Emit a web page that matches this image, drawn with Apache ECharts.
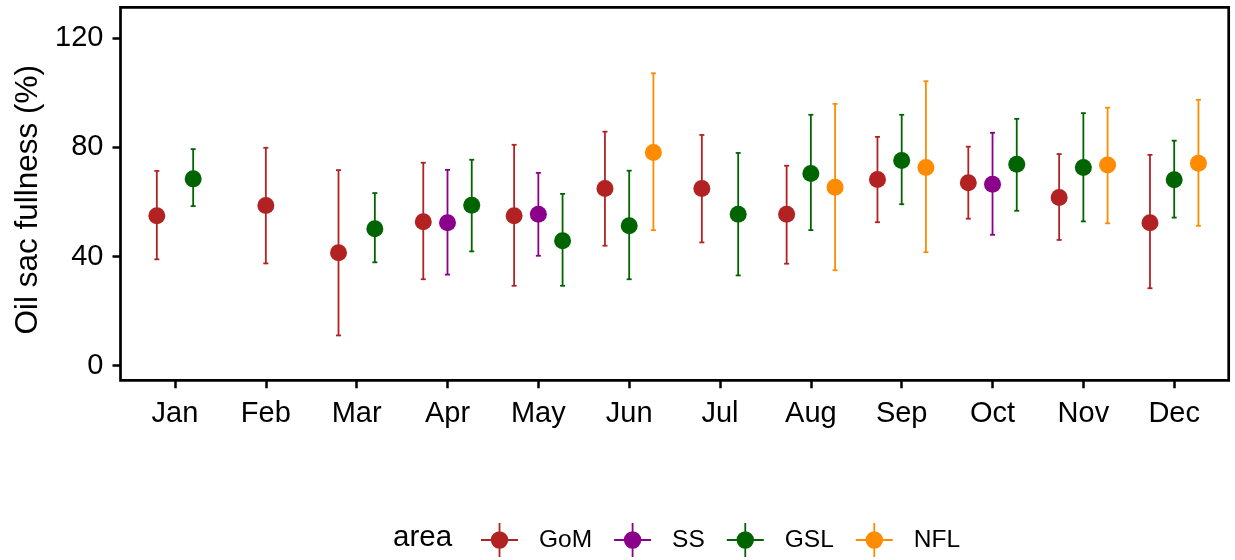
<!DOCTYPE html>
<html>
<head>
<meta charset="utf-8">
<script src="https://cdn.jsdelivr.net/npm/echarts@6/dist/echarts.min.js"></script>
<style>
  html, body { margin: 0; padding: 0; background: #fff; }
  #chart { width: 1235px; height: 560px; }
</style>
</head>
<body>
<div id="chart"></div>
<script>
// Monthly oil sac fullness (mean with lower / upper bounds) by area
const months = ['Jan', 'Feb', 'Mar', 'Apr', 'May', 'Jun', 'Jul', 'Aug', 'Sep', 'Oct', 'Nov', 'Dec'];
const yTicks = [0, 40, 80, 120];
const areas = ['GoM', 'SS', 'GSL', 'NFL'];
const areaColors = ['#B22222', '#8B008B', '#006400', '#FF8C00'];

const gomMean  = [55.0, 58.7, 41.4, 52.8, 55.0, 65.0, 65.0, 55.5, 68.3, 67.1, 61.7, 52.4];
const gomLower = [39.0, 37.5, 11.1, 31.7, 29.3, 44.0, 45.2, 37.4, 52.6, 53.9, 46.1, 28.4];
const gomUpper = [71.4, 79.9, 71.7, 74.4, 81.0, 85.8, 84.6, 73.3, 83.9, 80.3, 77.6, 77.3];

const ssMean  = [null, null, null, 52.4, 55.5, null, null, null, null, 66.5, null, null];
const ssLower = [null, null, null, 33.4, 40.3, null, null, null, null, 48.0, null, null];
const ssUpper = [null, null, null, 71.8, 70.7, null, null, null, null, 85.4, null, null];

const gslMean  = [68.5, null, 50.2, 58.8, 45.8, 51.3, 55.5, 70.5, 75.2, 73.9, 72.7, 68.2];
const gslLower = [58.5, null, 37.9, 41.9, 29.3, 31.7, 33.1, 49.7, 59.2, 56.8, 52.9, 54.3];
const gslUpper = [79.4, null, 63.3, 75.5, 63.0, 71.5, 78.0, 92.0, 92.0, 90.5, 92.6, 82.5];

const nflMean  = [null, null, null, null, null, 78.2, null, 65.4, 72.7, null, 73.6, 74.2];
const nflLower = [null, null, null, null, null, 49.7, null, 35.0, 41.6, null, 52.2, 51.3];
const nflUpper = [null, null, null, null, null, 107.2, null, 96.0, 104.3, null, 94.6, 97.5];

const areaStats = [
  [gomMean, gomLower, gomUpper],
  [ssMean, ssLower, ssUpper],
  [gslMean, gslLower, gslUpper],
  [nflMean, nflLower, nflUpper]
];

// Dodge the areas present in each month side by side (total dodge width 0.8)
const dodgeWidth = 0.8;
function dodgedX(monthIdx, areaIdx) {
  const present = [];
  areaStats.forEach((s, a) => { if (s[0][monthIdx] != null) present.push(a); });
  const n = present.length;
  const k = present.indexOf(areaIdx);
  return monthIdx + 1 + (k - (n - 1) / 2) * dodgeWidth / n;
}

function areaRows(a) {
  const rows = [];
  const [m, lo, hi] = areaStats[a];
  for (let i = 0; i < months.length; i++) {
    if (m[i] == null) continue;
    rows.push([dodgedX(i, a), m[i], lo[i], hi[i]]);
  }
  return rows;
}

// Legend key: horizontal + vertical stroke with a dot in the middle
const keyIcon = 'path://M0,16.1 L37,16.1 L37,17.9 L0,17.9 Z ' +
                'M17.6,0 L19.4,0 L19.4,34 L17.6,34 Z ' +
                'M9.8,17 A8.7,8.7 0 1,1 27.2,17 A8.7,8.7 0 1,1 9.8,17 Z';

const FONT = '"Liberation Sans", Arial, sans-serif';
const series = [];
areas.forEach((name, a) => {
  const rows = areaRows(a);
  series.push({
    name: name,
    type: 'custom',
    data: rows,
    encode: { x: 0, y: [2, 3] },
    z: 2,
    renderItem: function (params, api) {
      const x = api.value(0);
      const top = api.coord([x, api.value(3)]);
      const bot = api.coord([x, api.value(2)]);
      const cap = 2.5;
      const style = { stroke: areaColors[a], lineWidth: 1.8, fill: null };
      return {
        type: 'group',
        children: [
          { type: 'line', shape: { x1: top[0], y1: top[1], x2: bot[0], y2: bot[1] }, style: style },
          { type: 'line', shape: { x1: top[0] - cap, y1: top[1], x2: top[0] + cap, y2: top[1] }, style: style },
          { type: 'line', shape: { x1: bot[0] - cap, y1: bot[1], x2: bot[0] + cap, y2: bot[1] }, style: style }
        ]
      };
    }
  });
  series.push({
    name: name,
    type: 'scatter',
    data: rows.map(r => [r[0], r[1]]),
    symbol: 'circle',
    symbolSize: 17,
    z: 3,
    itemStyle: { color: areaColors[a], opacity: 1 },
    emphasis: { disabled: true }
  });
});

const chart = echarts.init(document.getElementById('chart'), null, { renderer: 'canvas' });
chart.setOption({
  animation: false,
  backgroundColor: '#fff',
  color: areaColors,
  grid: {
    left: 120.5, right: 6.3, top: 7.3, bottom: 179.7,
    show: true, borderColor: '#000', borderWidth: 2.7, backgroundColor: '#fff'
  },
  xAxis: {
    type: 'value',
    min: 0.4, max: 12.6,
    splitLine: { show: false },
    axisLine: { show: false, onZero: false },
    axisTick: {
      show: true, length: 8, customValues: months.map((_, i) => i + 1),
      lineStyle: { color: '#000', width: 2.5 }
    },
    axisLabel: {
      customValues: months.map((_, i) => i + 1),
      formatter: v => months[Math.round(v) - 1],
      color: '#000', fontSize: 29, fontFamily: FONT, margin: 19
    }
  },
  yAxis: {
    type: 'value',
    min: -5.35, max: 131.4,
    name: 'Oil sac fullness (%)',
    nameLocation: 'middle',
    nameGap: 72,
    nameTextStyle: { color: '#000', fontSize: 31.5, fontFamily: FONT, padding: [0, 12, 0, 0] },
    splitLine: { show: false },
    axisLine: { show: false, onZero: false },
    axisTick: {
      show: true, length: 8, customValues: yTicks,
      lineStyle: { color: '#000', width: 2.5 }
    },
    axisLabel: {
      customValues: yTicks,
      color: '#000', fontSize: 29, fontFamily: FONT, margin: 17
    }
  },
  legend: {
    data: areas.map((n, i) => ({ name: n, icon: keyIcon, itemStyle: { color: areaColors[i] } })),
    left: 476, top: 518,
    orient: 'horizontal',
    itemWidth: 37, itemHeight: 34, itemGap: 22,
    selectedMode: false,
    textStyle: { color: '#000', fontSize: 24.5, fontFamily: FONT, padding: [0, 0, 0, 16] }
  },
  graphic: [{
    type: 'text',
    left: 393, top: 523,
    style: { text: 'area', fontSize: 29.5, fontFamily: FONT, fill: '#000' }
  }],
  series: series
});
</script>
</body>
</html>
